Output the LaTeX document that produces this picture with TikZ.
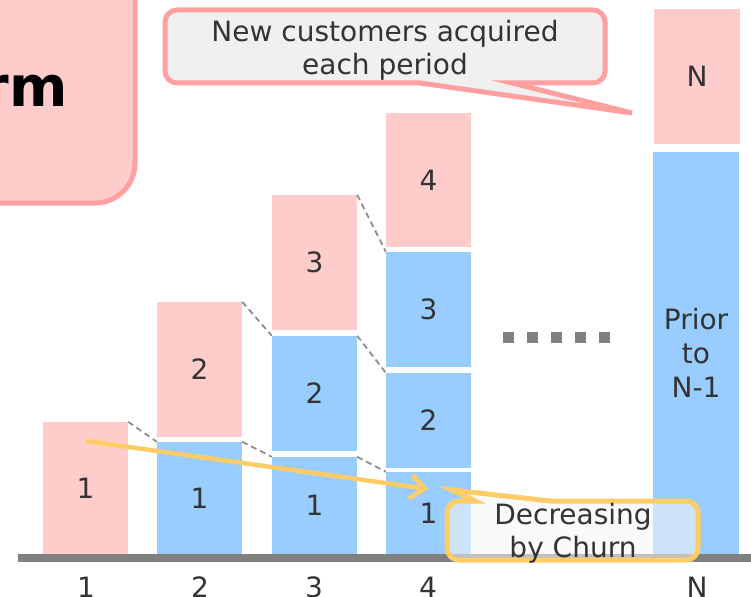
\documentclass[tikz,border=0pt]{standalone}
\usepackage{fontspec}
\setmainfont{DejaVu Sans}
\usetikzlibrary{arrows.meta}
\definecolor{newpink}{HTML}{FFCCCC}
\definecolor{linepink}{HTML}{FFA0A0}
\definecolor{oldblue}{HTML}{99CCFF}
\definecolor{churnorange}{HTML}{FFCC66}
\definecolor{txtgray}{HTML}{333333}
\definecolor{axisgray}{HTML}{808080}
\definecolor{notegray}{HTML}{F0F0F0}
\begin{document}
\begin{tikzpicture}[x=1pt,y=-1pt,
    newblk/.style={rectangle,fill=newpink,minimum width=85pt,inner sep=0pt,text=txtgray,font=\fontsize{28}{34}\selectfont},
    oldblk/.style={newblk,fill=oldblue},
    lbl/.style={inner sep=0pt,text=txtgray,font=\fontsize{28}{33}\selectfont,align=center},
    cut/.style={draw=axisgray!90,line width=1.8pt,dash pattern=on 6pt off 4pt},
    churn/.style={draw=churnorange,line width=4.5pt,-{Straight Barb[length=14pt,width=24pt]}}]
    \useasboundingbox (0,0) rectangle (751,596);

    \draw[fill=newpink,draw=linepink,line width=5pt,rounded corners=40pt] (-100,-100) rectangle (135,203);
    \node (titletxt) at (68,107) [anchor=base east,inner sep=0pt,text=black,font=\fontsize{56}{60}\selectfont\bfseries] {rm};

    \node (p1)  at (85.5,488)  [newblk,minimum height=132pt] {1};
    \node (b21) at (199.5,498) [oldblk,minimum height=112pt] {1};
    \node (p2)  at (199.5,369.5) [newblk,minimum height=135pt] {2};
    \node (b31) at (314.5,505.5) [oldblk,minimum height=97pt] {1};
    \node (b32) at (314.5,393.5) [oldblk,minimum height=115pt] {2};
    \node (p3)  at (314.5,262.5) [newblk,minimum height=135pt] {3};
    \node (b41) at (428.5,513)   [oldblk,minimum height=82pt] {1};
    \node (b42) at (428.5,420.5) [oldblk,minimum height=95pt] {2};
    \node (b43) at (428.5,309.5) [oldblk,minimum height=115pt] {3};
    \node (p4)  at (428.5,180)   [newblk,minimum height=134pt] {4};
    \node (pN)  at (697,76.5)    [newblk,minimum width=86pt,minimum height=135pt] {N};
    \node (bN)  at (696,353)     [oldblk,minimum width=86pt,minimum height=402pt,align=center] {Prior\\to\\N-1};

    \draw[cut] (p1.north east) to (b21.north west);
    \draw[cut] (p2.north east) to (b32.north west);
    \draw[cut] (p3.north east) to (b43.north west);
    \draw[cut] (b21.north east) to (b31.north west);
    \draw[cut] (b32.north east) to (b42.north west);
    \draw[cut] (b31.north east) to (b41.north west);

    \fill[axisgray] (18,554) rectangle (751,562);

    \fill[axisgray] (503,332) rectangle (514,343);
    \fill[axisgray] (527,332) rectangle (538,343);
    \fill[axisgray] (551,332) rectangle (562,343);
    \fill[axisgray] (575,332) rectangle (586,343);
    \fill[axisgray] (599,332) rectangle (610,343);

    \node (x1) at (86,587)  [lbl] {1};
    \node (x2) at (200,587) [lbl] {2};
    \node (x3) at (314,587) [lbl] {3};
    \node (x4) at (428,587) [lbl] {4};
    \node (xN) at (697,587) [lbl] {N};

    \coordinate (churnA) at (86,441);
    \coordinate (churnB) at (428,489);
    \draw[churn] (churnA) to (churnB);

    \draw[draw=churnorange,line width=5pt,fill=notegray!60,fill opacity=0.55]
        (459,501) -- (475,501) -- (452,490) -- (550,501) -- (686,501) arc (270:360:12)
        -- (698,548) arc (0:90:12) -- (459,560) arc (90:180:12) -- (447,513) arc (180:270:12) -- cycle;
    \node (churnnote) at (573,533) [lbl] {Decreasing\\by Churn};

    \draw[draw=linepink,line width=5pt,fill=notegray,line join=miter]
        (177,10) -- (593,10) arc (270:360:12) -- (605,71) arc (0:90:12)
        -- (512,83) -- (632,113) -- (420,83) -- (177,83) arc (90:180:12) -- (165,22) arc (180:270:12) -- cycle;
    \node (newnote) at (385,50) [lbl] {New customers acquired\\each period};

\end{tikzpicture}
\end{document}
